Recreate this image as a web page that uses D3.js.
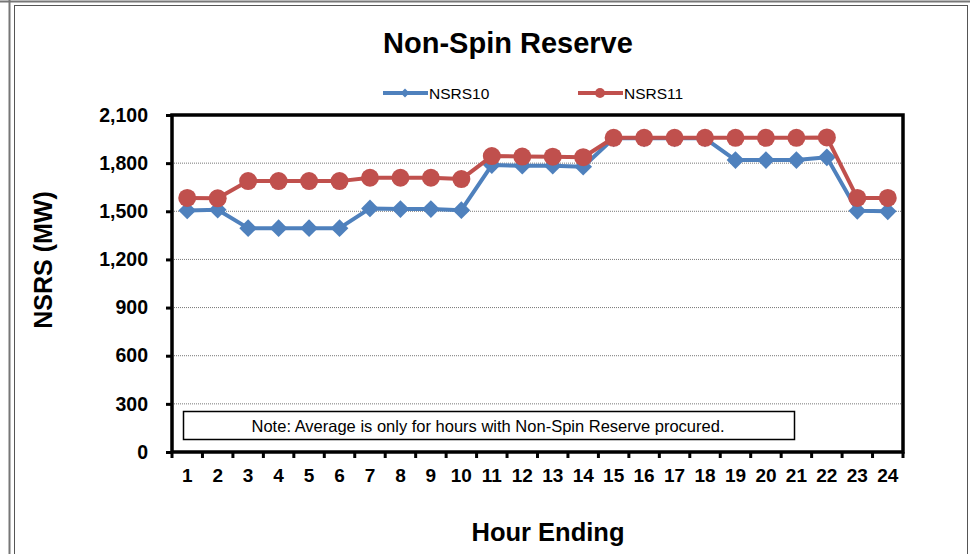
<!DOCTYPE html>
<html>
<head>
<meta charset="utf-8">
<script src="https://cdn.jsdelivr.net/npm/d3@7"></script>
<style>
  body { margin: 0; background: #fff; }
  text { font-family: "Liberation Sans", Arial, sans-serif; }
</style>
</head>
<body>
<div id="chart"></div>
<script>
const width = 970, height = 554;

// data
const hours = d3.range(1, 25).map(String);
const nsrs10 = [1505, 1510, 1395, 1395, 1395, 1395, 1518, 1514, 1514, 1507, 1788, 1784,
                1784, 1778, 1955, 1955, 1955, 1955, 1819, 1819, 1819, 1836, 1503, 1500];
const nsrs11 = [1583, 1581, 1688, 1688, 1688, 1688, 1709, 1709, 1709, 1701, 1844, 1841,
                1840, 1837, 1958, 1958, 1958, 1958, 1958, 1958, 1958, 1960, 1583, 1583];
const yTicks = [0, 300, 600, 900, 1200, 1500, 1800, 2100];
const seriesNames = ["NSRS10", "NSRS11"];
const seriesColors = ["#4f81bd", "#c0504d"];

const margin = {top: 115, right: 67, bottom: 102, left: 172};

var svg = d3.select("#chart")
  .append("svg")
  .attr("width", width)
  .attr("height", height);

// outer frame lines
svg.append("line").attr("x1", 0).attr("x2", width).attr("y1", 1.5).attr("y2", 1.5)
  .attr("stroke", "#777").attr("stroke-width", 2);
svg.append("line").attr("x1", 9.5).attr("x2", 9.5).attr("y1", 0).attr("y2", height)
  .attr("stroke", "#777").attr("stroke-width", 2);
svg.append("rect").attr("x", 14.5).attr("y", 5.5).attr("width", 953).attr("height", 560)
  .attr("fill", "none").attr("stroke", "#555").attr("stroke-width", 1);

var x = d3.scaleBand()
  .domain(hours)
  .range([margin.left, width - margin.right]);

var y = d3.scaleLinear()
  .domain([0, 2100])
  .range([height - margin.bottom, margin.top]);

// title
svg.append("text")
  .attr("x", 508).attr("y", 53)
  .attr("text-anchor", "middle")
  .style("font-size", "29px").style("font-weight", "bold")
  .text("Non-Spin Reserve");

// gridlines
svg.append("g")
  .selectAll("line")
  .data(yTicks.slice(1, -1))
  .enter().append("line")
  .attr("x1", margin.left).attr("x2", width - margin.right)
  .attr("y1", d => y(d)).attr("y2", d => y(d))
  .attr("stroke", "#777").attr("stroke-width", 1)
  .attr("stroke-dasharray", "1,1");

// y axis
var yAxis = svg.append("g")
  .attr("transform", `translate(${margin.left},0)`)
  .call(d3.axisLeft(y).tickValues(yTicks).tickFormat(d3.format(",")).tickSize(6).tickPadding(18));
yAxis.select(".domain").remove();
yAxis.selectAll(".tick line").attr("stroke", "#000").attr("stroke-width", 3);
yAxis.selectAll(".tick text")
  .style("font-size", "19.5px").style("font-weight", "bold").attr("fill", "#000");

// x axis, ticks at category boundaries
var xAxis = svg.append("g")
  .attr("transform", `translate(0,${height - margin.bottom})`)
  .call(d3.axisBottom(x).tickSize(0).tickPadding(17));
xAxis.select(".domain").remove();
xAxis.selectAll(".tick text")
  .style("font-size", "19px").style("font-weight", "bold").attr("fill", "#000");

svg.append("g")
  .selectAll("line")
  .data(hours.concat(["end"]))
  .enter().append("line")
  .attr("x1", (d, i) => margin.left + i * x.step())
  .attr("x2", (d, i) => margin.left + i * x.step())
  .attr("y1", height - margin.bottom)
  .attr("y2", height - margin.bottom + 6)
  .attr("stroke", "#000").attr("stroke-width", 3);

// plot frame
svg.append("rect")
  .attr("x", margin.left).attr("y", margin.top)
  .attr("width", width - margin.left - margin.right)
  .attr("height", height - margin.top - margin.bottom)
  .attr("fill", "none").attr("stroke", "#000").attr("stroke-width", 3.5);

// note box
svg.append("rect")
  .attr("x", 183.5).attr("y", 411.5).attr("width", 611).attr("height", 28)
  .attr("fill", "#fff").attr("stroke", "#000").attr("stroke-width", 1.5);
svg.append("text")
  .attr("x", 488).attr("y", 432)
  .attr("text-anchor", "middle")
  .style("font-size", "16.5px")
  .text("Note: Average is only for hours with Non-Spin Reserve procured.");

// axis titles
svg.append("text")
  .attr("transform", "translate(52,260) rotate(-90)")
  .attr("text-anchor", "middle")
  .style("font-size", "25px").style("font-weight", "bold")
  .text("NSRS (MW)");
svg.append("text")
  .attr("x", 548).attr("y", 541)
  .attr("text-anchor", "middle")
  .style("font-size", "25.5px").style("font-weight", "bold")
  .text("Hour Ending");

// lines and markers
const line = d3.line()
  .x((d, i) => x(hours[i]) + x.bandwidth() / 2)
  .y(d => y(d));

const diamond = d3.symbol().type(d3.symbolDiamond2).size(200);

[nsrs10, nsrs11].forEach((vals, s) => {
  svg.append("path")
    .datum(vals)
    .attr("fill", "none")
    .attr("stroke", seriesColors[s])
    .attr("stroke-width", 4)
    .attr("stroke-linejoin", "round")
    .attr("d", line);

  if (s === 0) {
    svg.append("g").selectAll("path")
      .data(vals)
      .enter().append("path")
      .attr("d", diamond)
      .attr("transform", (d, i) => `translate(${x(hours[i]) + x.bandwidth() / 2},${y(d)})`)
      .attr("fill", seriesColors[s]);
  } else {
    svg.append("g").selectAll("circle")
      .data(vals)
      .enter().append("circle")
      .attr("cx", (d, i) => x(hours[i]) + x.bandwidth() / 2)
      .attr("cy", d => y(d))
      .attr("r", 9)
      .attr("fill", seriesColors[s]);
  }
});

// legend
const legend = svg.append("g").attr("transform", "translate(0,93)");
const legendX = [383, 578];
seriesNames.forEach((name, s) => {
  const lx = legendX[s];
  legend.append("line")
    .attr("x1", lx).attr("x2", lx + 45)
    .attr("y1", 0).attr("y2", 0)
    .attr("stroke", seriesColors[s]).attr("stroke-width", 4);
  if (s === 0) {
    legend.append("path")
      .attr("d", d3.symbol().type(d3.symbolDiamond2).size(50))
      .attr("transform", `translate(${lx + 22},0)`)
      .attr("fill", seriesColors[s]);
  } else {
    legend.append("circle")
      .attr("cx", lx + 22).attr("cy", 0).attr("r", 5)
      .attr("fill", seriesColors[s]);
  }
  legend.append("text")
    .attr("x", lx + 46).attr("y", 5.5)
    .style("font-size", "15.5px")
    .text(name);
});
</script>
</body>
</html>
